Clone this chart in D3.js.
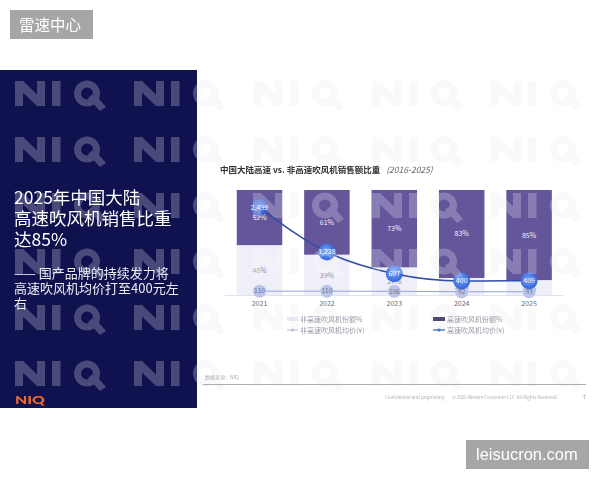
<!DOCTYPE html>
<html><head><meta charset="utf-8">
<script src="https://cdn.jsdelivr.net/npm/d3@7"></script>
<style>
body{margin:0;background:#fff}
svg{display:block}
text{font-family:"Noto Sans CJK SC","Noto Sans",sans-serif}
</style>
</head><body><script>
// ---- data ----
const years = ["2021", "2022", "2023", "2024", "2025"];
const highShare = [52, 61, 73, 83, 85];
const nonHighShare = [48, 39, 27, 17, 15];
const highPrice = [2499, 1228, 607, 400, 409];
const nonHighPrice = [110, 110, 106, 92, 93];
const chartTitle = "中国大陆高速 vs. 非高速吹风机销售额比重";
const chartPeriod = "(2016-2025)";
const legendShareLabels = ["非高速吹风机份额%", "高速吹风机份额%"];
const legendPriceLabels = ["非高速吹风机均价(¥)", "高速吹风机均价(¥)"];
const headline = ["2025年中国大陆", "高速吹风机销售比重", "达85%"];
const subline = ["—— 国产品牌的持续发力将", "高速吹风机均价打至400元左", "右"];

const W = 600, H = 480;
const svg = d3.select("body").append("svg").attr("width", W).attr("height", H);
const defs = svg.append("defs");
const rg = defs.append("radialGradient").attr("id", "hg").attr("cx", "45%").attr("cy", "40%").attr("r", "60%");
rg.append("stop").attr("offset", "0%").attr("stop-color", "#6f9ff6");
rg.append("stop").attr("offset", "100%").attr("stop-color", "#2a5fdb");
defs.append("clipPath").attr("id", "slideClip").append("rect").attr("x", 0).attr("y", 70).attr("width", 600).attr("height", 338);
defs.append("clipPath").attr("id", "whiteClip").append("rect").attr("x", 197).attr("y", 70).attr("width", 403).attr("height", 338);

// watermark grid (decorative logo shapes)
const wmRows = [106, 162, 218, 274, 330, 386];
const wmCols = [15, 134, 253, 372, 491];
const niqBody = "M0 25V0H8L22 13.5V0H30V25H22L8 11.5V25Z M37 0H45.5V25H37Z " +
  "M72 -0.5A13 13 0 1 0 72 25.5A13 13 0 1 0 72 -0.5Z M72 6.5A6 6 0 1 1 72 18.5A6 6 0 1 1 72 6.5Z";
const niqTail = "M73 17L79 12L91 26L85 30Z";
function watermark(parent, fill, op) {
  const g = parent.append("g").attr("opacity", op).attr("fill", fill);
  wmRows.forEach(r => wmCols.forEach(c => {
    const t = g.append("g").attr("transform", `translate(${c},${r - 25})`);
    t.append("path").attr("d", niqBody).attr("fill-rule", "evenodd");
    t.append("path").attr("d", niqTail);
  }));
}
// faint watermark on white slide area
watermark(svg.append("g").attr("clip-path", "url(#whiteClip)"), "#f7f7f9", 1);

// left panel
svg.append("rect").attr("x", 0).attr("y", 70).attr("width", 197).attr("height", 338).attr("fill", "#10124f");

// ---- chart scales ----
const x = d3.scaleBand().domain(years).range([225.8, 562.8]).paddingInner(0.325).paddingOuter(0.1625);
const yShare = d3.scaleLinear().domain([0, 100]).range([296, 190]);
const yPrice = d3.scaleLinear().domain([0, 3000]).range([295, 190]);

const chart = svg.append("g");
chart.selectAll(".lo").data(years).join("rect")
  .attr("x", d => x(d)).attr("width", x.bandwidth())
  .attr("y", (d, i) => yShare(nonHighShare[i])).attr("height", (d, i) => yShare(0) - yShare(nonHighShare[i]))
  .attr("fill", "#eeeff8");
chart.selectAll(".hi").data(years).join("rect")
  .attr("x", d => x(d)).attr("width", x.bandwidth())
  .attr("y", (d, i) => yShare(100)).attr("height", (d, i) => yShare(nonHighShare[i]) - yShare(100))
  .attr("fill", "#65569b");

// overlay watermark (shows on dark areas)
watermark(svg.append("g").attr("clip-path", "url(#slideClip)"), "#ffffff", 0.24);

// baseline
chart.append("line").attr("x1", 225).attr("x2", 563).attr("y1", 295.5).attr("y2", 295.5)
  .attr("stroke", "#dde1f0").attr("stroke-width", 1);

// x axis labels
const xAxis = d3.axisBottom(x).tickSize(0).tickPadding(0);
const xg = chart.append("g").attr("transform", "translate(0,301)").call(xAxis);
xg.select(".domain").remove();
xg.selectAll("text").attr("fill", "#666").style("font-size", "7px").attr("dy", "0.71em");

// share labels
chart.selectAll(".hl").data(years).join("text")
  .attr("x", d => x(d) + x.bandwidth() / 2)
  .attr("y", (d, i) => (yShare(100) + yShare(nonHighShare[i])) / 2)
  .attr("dy", "0.35em").attr("text-anchor", "middle").attr("fill", "#f2f0fa")
  .style("font-size", "7px").text((d, i) => highShare[i] + "%");
chart.selectAll(".ll").data(years).join("text")
  .attr("x", d => x(d) + x.bandwidth() / 2)
  .attr("y", (d, i) => (yShare(0) + yShare(nonHighShare[i])) / 2)
  .attr("dy", "0.35em").attr("text-anchor", "middle").attr("fill", "#8f90a3")
  .style("font-size", "7px").text((d, i) => nonHighShare[i] + "%");

const cx = d => x(d) + x.bandwidth() / 2;
// non-high price line
const lineLo = d3.line().x((d, i) => cx(years[i])).y(d => yPrice(d));
chart.append("path").datum(nonHighPrice).attr("d", lineLo).attr("fill", "none")
  .attr("stroke", "#8ea2dc").attr("stroke-width", 1);
chart.selectAll(".lp").data(nonHighPrice).join("circle")
  .attr("cx", (d, i) => cx(years[i])).attr("cy", d => yPrice(d)).attr("r", 6.5)
  .attr("fill", "#b8c2e8").attr("fill-opacity", 0.95);
chart.selectAll(".lpt").data(nonHighPrice).join("text")
  .attr("x", (d, i) => cx(years[i])).attr("y", d => yPrice(d)).attr("dy", "0.35em")
  .attr("text-anchor", "middle").attr("fill", "#6d7290").style("font-size", "6.5px").text(d => d);

// high price line
const lineHi = d3.line().x((d, i) => cx(years[i])).y(d => yPrice(d)).curve(d3.curveMonotoneX);
chart.append("path").datum(highPrice).attr("d", lineHi).attr("fill", "none")
  .attr("stroke", "#2f4fa6").attr("stroke-width", 1.6);
chart.selectAll(".hp").data(highPrice).join("circle")
  .attr("cx", (d, i) => cx(years[i])).attr("cy", d => yPrice(d)).attr("r", 8.5)
  .attr("fill", "url(#hg)").attr("fill-opacity", (d, i) => i === 0 ? 0.75 : 0.95);
chart.selectAll(".hpt").data(highPrice).join("text")
  .attr("x", (d, i) => cx(years[i])).attr("y", d => yPrice(d)).attr("dy", "0.35em")
  .attr("text-anchor", "middle").attr("fill", "#ffffff").style("font-size", "7px").text(d => d3.format(",")(d));

// title
const tt = svg.append("text").attr("x", 220).attr("y", 173).style("font-size", "8.5px");
tt.append("tspan").attr("fill", "#333").style("font-weight", 700).text(chartTitle);
tt.append("tspan").attr("dx", 6).attr("fill", "#666").style("font-style", "italic").text(chartPeriod);

// legend
const lg = svg.append("g").style("font-size", "7px");
lg.append("rect").attr("x", 287).attr("y", 317).attr("width", 11).attr("height", 4).attr("fill", "#e6e8f4");
lg.append("text").attr("x", 300).attr("y", 321.5).attr("fill", "#9a9aa8").text(legendShareLabels[0]);
lg.append("rect").attr("x", 433).attr("y", 317).attr("width", 12).attr("height", 4).attr("fill", "#4d4b7c");
lg.append("text").attr("x", 447).attr("y", 321.5).attr("fill", "#9a9aa8").text(legendShareLabels[1]);
lg.append("line").attr("x1", 287).attr("x2", 298).attr("y1", 330).attr("y2", 330).attr("stroke", "#b3bde0").attr("stroke-width", 1);
lg.append("circle").attr("cx", 292.5).attr("cy", 330).attr("r", 1.5).attr("fill", "#b3bde0");
lg.append("text").attr("x", 300).attr("y", 332.5).attr("fill", "#9a9aa8").text(legendPriceLabels[0]);
lg.append("line").attr("x1", 433).attr("x2", 445).attr("y1", 330).attr("y2", 330).attr("stroke", "#3a5fb3").attr("stroke-width", 1.2);
lg.append("circle").attr("cx", 439).attr("cy", 330).attr("r", 1.6).attr("fill", "#3a6fd8");
lg.append("text").attr("x", 447).attr("y", 332.5).attr("fill", "#9a9aa8").text(legendPriceLabels[1]);

// source & footer
svg.append("text").attr("x", 205).attr("y", 379).attr("fill", "#aaa").style("font-size", "5px").text("数据来源：NIQ");
svg.append("line").attr("x1", 203).attr("x2", 586).attr("y1", 384.5).attr("y2", 384.5).attr("stroke", "#8a8a8a").attr("stroke-width", 0.7);
svg.append("text").attr("x", 385).attr("y", 398.5).attr("fill", "#b0b0b0").style("font-size", "4.5px").text("Confidential and proprietary");
svg.append("text").attr("x", 452).attr("y", 398.5).attr("fill", "#b0b0b0").style("font-size", "4.5px").text("© 2026 Nielsen Consumer LLC. All Rights Reserved.");
svg.append("text").attr("x", 583).attr("y", 398.5).attr("fill", "#888").style("font-size", "5px").text("7");

// left panel text
const hp = svg.append("g").attr("fill", "#ffffff");
headline.forEach((t, i) => hp.append("text").attr("x", 14).attr("y", 204 + i * 21).style("font-size", "17.5px").text(t));
subline.forEach((t, i) => hp.append("text").attr("x", 14).attr("y", 278 + i * 15).attr("fill", "#ececf4").style("font-size", "13px").text(t));
svg.append("text").attr("x", 15).attr("y", 403.5).attr("textLength", 30).attr("lengthAdjust", "spacingAndGlyphs")
  .style("font-family", "Lato, sans-serif").style("font-weight", 900).style("font-size", "12px")
  .attr("fill", "#ee6a2c").text("NIQ");

// corner badges
svg.append("rect").attr("x", 10).attr("y", 10).attr("width", 83).attr("height", 29).attr("fill", "#a6a6a6");
svg.append("text").attr("x", 19).attr("y", 31).attr("fill", "#fff").style("font-size", "15.5px").text("雷速中心");
svg.append("rect").attr("x", 466).attr("y", 440).attr("width", 123).attr("height", 29).attr("fill", "#a6a6a6");
svg.append("text").attr("x", 476).attr("y", 459.5).attr("fill", "#fff")
  .style("font-family", "'Liberation Sans', Arial, sans-serif").style("font-size", "16.5px").text("leisucron.com");
</script></body></html>
